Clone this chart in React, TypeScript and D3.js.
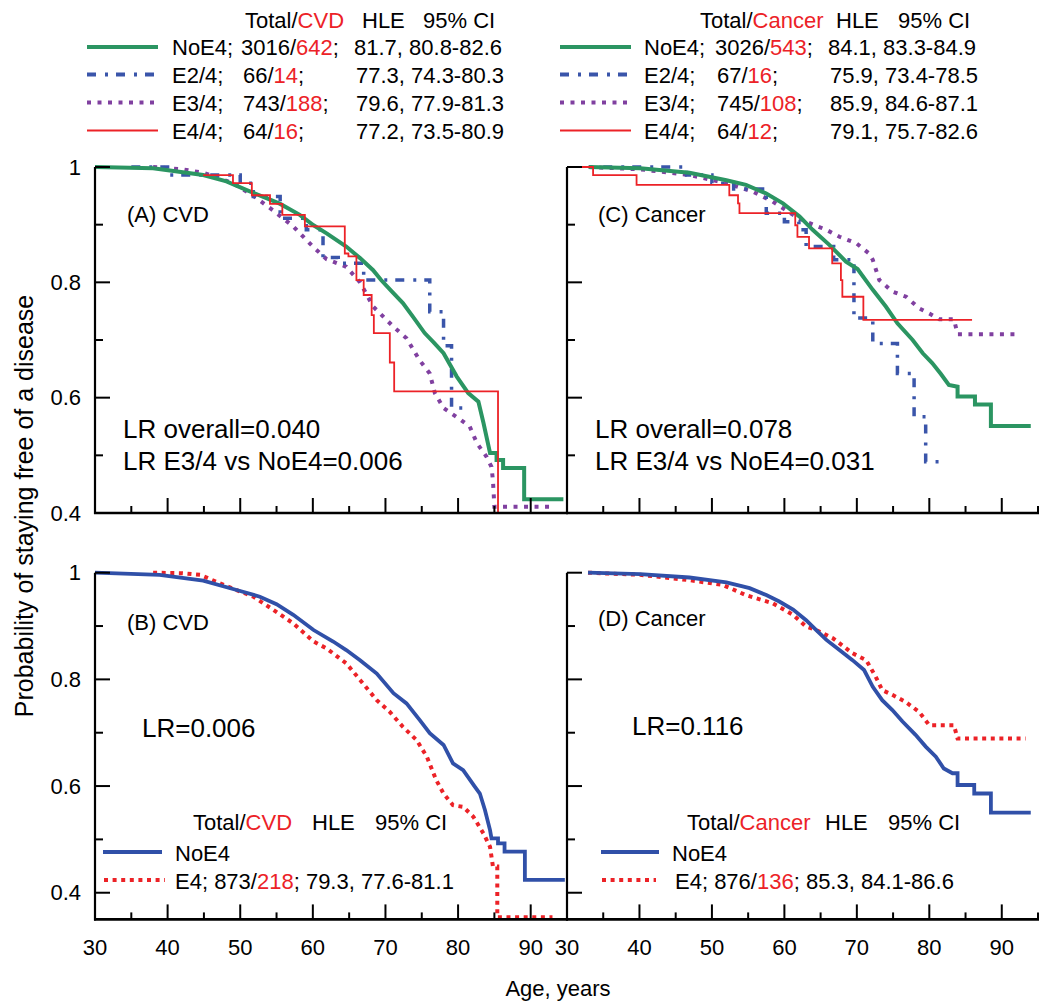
import React from 'react';
import * as d3 from 'd3';

type Pt = [number, number];

// ---------- data (age, probability free of disease) ----------
const ageTicks = [30, 40, 50, 60, 70, 80, 90];
const probTickLabels = [1, 0.8, 0.6, 0.4];

// Panel A: CVD by genotype
const cvdNoE4: Pt[] = [[30,1.0],[38,0.998],[44.9,0.986],[48.1,0.975],[50.9,0.96],[53.6,0.946],[55.5,0.936],[58.2,0.917],[60.1,0.899],[61.9,0.885],[64.6,0.862],[66.5,0.842],[68.3,0.821],[69.4,0.804],[70.8,0.785],[72.4,0.764],[73.8,0.74],[75.4,0.712],[76.7,0.695],[78.0,0.677],[79.8,0.637],[81.4,0.608],[82.8,0.593],[83.5,0.556],[84.4,0.504],[85.3,0.504],[85.3,0.492],[86.2,0.492],[86.2,0.478],[89.1,0.478],[89.1,0.424],[94.5,0.424]];
const cvdE24: Pt[] = [[35,1.0],[40.3,0.986],[50,0.972],[51.8,0.949],[55.5,0.911],[59.1,0.891],[61.4,0.843],[63.5,0.833],[67,0.804],[76.1,0.749],[78,0.69],[79.1,0.582],[81.4,0.582]];
const cvdE34: Pt[] = [[38.0,1.0],[42,0.996],[44.9,0.99],[49,0.972],[51.8,0.95],[54.5,0.925],[57.3,0.897],[60,0.862],[61.9,0.84],[64.6,0.827],[66.5,0.80],[68.3,0.758],[71.1,0.723],[72.9,0.703],[74.7,0.665],[76.1,0.642],[76.8,0.608],[78.0,0.582],[80.3,0.562],[81.6,0.55],[82.6,0.521],[83.9,0.498],[84.6,0.48],[84.8,0.457],[85.0,0.411],[93.3,0.411]];
const cvdE44: Pt[] = [[44.9,0.986],[49.0,0.972],[51.6,0.951],[54.1,0.936],[55.8,0.917],[58.9,0.897],[64.4,0.85],[64.9,0.845],[66.0,0.804],[67.0,0.778],[68.1,0.743],[68.4,0.712],[70.6,0.661],[71.2,0.611],[85.5,0.0]];

// Panel C: Cancer by genotype
const canNoE4: Pt[] = [[33,1.0],[40.1,0.998],[46.9,0.99],[52.0,0.977],[54.7,0.969],[57.5,0.954],[59.8,0.937],[62.1,0.914],[63.9,0.891],[66.2,0.865],[68.5,0.836],[70.1,0.823],[72.2,0.787],[74.0,0.758],[75.6,0.729],[77.7,0.70],[79.1,0.677],[80.4,0.66],[81.6,0.641],[82.7,0.622],[83.9,0.619],[83.9,0.602],[86.3,0.602],[86.3,0.588],[88.5,0.588],[88.5,0.551],[94.0,0.551]];
const canE24: Pt[] = [[35,1.0],[46.5,0.986],[50.0,0.972],[53.0,0.962],[57.5,0.92],[60.0,0.905],[62.0,0.891],[63.0,0.862],[66.8,0.839],[69.6,0.738],[72.2,0.694],[75.6,0.642],[77.9,0.567],[79.5,0.489],[81.8,0.489]];
const canE34: Pt[] = [[33,1.0],[40.1,0.996],[46.9,0.986],[52.0,0.972],[55.7,0.957],[58.4,0.94],[61.2,0.917],[63.0,0.905],[65.8,0.891],[67.6,0.879],[69.9,0.868],[71.7,0.85],[72.2,0.839],[73.1,0.804],[74.9,0.784],[76.8,0.775],[78.6,0.755],[80.0,0.746],[81.4,0.736],[83.4,0.736],[83.9,0.71],[91.9,0.71]];
const canE44: Pt[] = [[30,1.0],[33.6,0.986],[39.6,0.969],[52.4,0.951],[53.6,0.937],[53.8,0.92],[61.5,0.899],[61.8,0.879],[63.4,0.859],[66.6,0.833],[67.8,0.804],[68.0,0.775],[70.9,0.735],[85.9,0.735]];

// Panel B: CVD, NoE4 vs E4
const cvdBNoE4: Pt[] = [[30,1.0],[38.9,0.996],[44.9,0.985],[49.5,0.9675],[52.7,0.955],[55.0,0.941],[57.3,0.921],[60.1,0.8925],[62.8,0.871],[64.6,0.855],[66.5,0.836],[68.8,0.811],[71.1,0.774],[72.9,0.755],[74.7,0.724],[76.1,0.699],[78.0,0.677],[79.3,0.6425],[80.7,0.63],[82.3,0.599],[83.0,0.586],[83.7,0.555],[84.4,0.5175],[84.6,0.502],[85.5,0.502],[85.5,0.4925],[86.4,0.4925],[86.4,0.477],[89.2,0.477],[89.2,0.424],[94.7,0.424]];
const cvdBE4: Pt[] = [[38,1.0],[42,0.999],[44.5,0.996],[47.2,0.98],[49.5,0.9675],[51.8,0.955],[54.6,0.93],[57.3,0.905],[60.1,0.871],[61.9,0.858],[64.6,0.83],[66.5,0.799],[68.8,0.761],[70.6,0.739],[72.4,0.711],[74.3,0.686],[75.7,0.655],[77.0,0.611],[78.0,0.586],[79.3,0.564],[80.7,0.561],[82.1,0.5425],[83.5,0.511],[84.4,0.486],[84.8,0.449],[85.4,0.449],[85.4,0.354],[93,0.354]];

// Panel D: Cancer, NoE4 vs E4
const canDNoE4: Pt[] = [[32.9,1.0],[40.1,0.9975],[46.9,0.991],[52.0,0.982],[55.2,0.971],[57.5,0.958],[59.3,0.946],[61.2,0.931],[63.0,0.911],[64.4,0.8925],[65.8,0.874],[67.6,0.855],[69.4,0.836],[71.0,0.8175],[72.2,0.786],[73.5,0.761],[74.9,0.7425],[76.3,0.721],[78.1,0.696],[79.5,0.674],[80.9,0.655],[82.0,0.633],[83.2,0.624],[83.9,0.624],[83.9,0.602],[86.2,0.602],[86.2,0.586],[88.5,0.586],[88.5,0.55],[94.0,0.55]];
const canDE4: Pt[] = [[32.9,1.0],[40.1,0.996],[46.9,0.986],[51.5,0.977],[54.7,0.958],[58.4,0.9425],[61.2,0.921],[63.0,0.899],[64.4,0.8925],[66.7,0.877],[69.4,0.849],[71.3,0.836],[72.6,0.805],[73.5,0.78],[74.9,0.771],[76.7,0.758],[78.6,0.739],[80.0,0.714],[83.4,0.714],[83.9,0.689],[93.3,0.689]];

// legend rows
const cvdLegend = [
  { label: 'NoE4;', total: '3016/', cases: '642', hle: '81.7, 80.8-82.6' },
  { label: 'E2/4;', total: '66/', cases: '14', hle: '77.3, 74.3-80.3' },
  { label: 'E3/4;', total: '743/', cases: '188', hle: '79.6, 77.9-81.3' },
  { label: 'E4/4;', total: '64/', cases: '16', hle: '77.2, 73.5-80.9' },
];
const canLegend = [
  { label: 'NoE4;', total: '3026/', cases: '543', hle: '84.1, 83.3-84.9' },
  { label: 'E2/4;', total: '67/', cases: '16', hle: '75.9, 73.4-78.5' },
  { label: 'E3/4;', total: '745/', cases: '108', hle: '85.9, 84.6-87.1' },
  { label: 'E4/4;', total: '64/', cases: '12', hle: '79.1, 75.7-82.6' },
];

const FONT = "'Liberation Sans', Arial, Helvetica, sans-serif";
const GREEN = '#2b9562';
const BLUE = '#3a55aa';
const PURPLE = '#8040a0';
const RED = '#ec2227';
const NAVY = '#3050a8';

type Style = { color: string; width: number; dash?: string; step?: boolean };
const styles: Style[] = [
  { color: GREEN, width: 4 },
  { color: BLUE, width: 3.5, dash: '9,9,3,8', step: true },
  { color: PURPLE, width: 4, dash: '4,6.5' },
  { color: RED, width: 1.8, step: true },
];
const bStyles: Style[] = [
  { color: NAVY, width: 3.8 },
  { color: RED, width: 4, dash: '4,4.6' },
];

function Curve({ data, x, y, s, clip }: { data: Pt[]; x: any; y: any; s: Style; clip: string }) {
  const gen = d3.line<Pt>().x(d => x(d[0])).y(d => y(d[1])).curve(s.step ? d3.curveStepAfter : d3.curveLinear);
  return <path d={gen(data) || ''} fill="none" stroke={s.color} strokeWidth={s.width} strokeDasharray={s.dash} clipPath={`url(#${clip})`} strokeLinejoin="miter" />;
}

function Axes({ x, y, yMin, showLabels, showXLabels }: { x: any; y: any; yMin: number; showLabels: boolean; showXLabels: boolean }) {
  const [x0, x1] = x.range();
  const yBottom = y(yMin);
  const yTop = y(1);
  const xt = d3.range(35, 96, 5);
  const yt = d3.range(Math.round(yMin * 10), 11).map(v => v / 10).filter(v => v > yMin + 1e-6 || Math.abs(v - 0.4) < 1e-6 && yMin < 0.39);
  return (
    <g>
      <line x1={x0} x2={x0} y1={yTop} y2={yBottom + 1} stroke="#000" strokeWidth={2.2} />
      <line x1={x0 - 1} x2={x1 + 1} y1={yBottom} y2={yBottom} stroke="#000" strokeWidth={2.6} />
      {xt.map(a => {
        const major = a % 10 === 0;
        return <line key={'x' + a} x1={x(a)} x2={x(a)} y1={yBottom} y2={yBottom - (major ? 15 : 7)} stroke="#000" strokeWidth={2} />;
      })}
      {yt.map(v => {
        const major = Math.round(v * 10) % 2 === 0;
        return <line key={'y' + v} x1={x0} x2={x0 + (major ? 15 : 8)} y1={y(v)} y2={y(v)} stroke="#000" strokeWidth={2} />;
      })}
      {showLabels && probTickLabels.map(v => (
        <text key={'yl' + v} x={81} y={y(v)} textAnchor="end" dominantBaseline="central" fontSize={22}>{String(v)}</text>
      ))}
      {showXLabels && ageTicks.map(a => (
        <text key={'xl' + a} x={x(a)} y={947} textAnchor="middle" dominantBaseline="central" fontSize={22}>{a}</text>
      ))}
    </g>
  );
}

function LegendTop({ x0, header, rows, cols }: { x0: number; header: { word: string; xs: number[] }; rows: typeof cvdLegend; cols: number[] }) {
  const rowY = [47, 74.5, 102.5, 130.5];
  return (
    <g fontSize={22}>
      <text x={header.xs[0]} y={28}>Total/<tspan fill={RED}>{header.word}</tspan></text>
      <text x={header.xs[1]} y={28}>HLE</text>
      <text x={header.xs[2]} y={28}>95% CI</text>
      {rows.map((r, i) => (
        <g key={i}>
          <line x1={x0} x2={x0 + 71} y1={rowY[i]} y2={rowY[i]} stroke={styles[i].color} strokeWidth={i === 3 ? 2 : 4} strokeDasharray={styles[i].dash} />
          <text x={cols[0]} y={rowY[i] + 8}>{r.label}</text>
          <text x={cols[1] + (i === 0 ? -1 : 1)} y={rowY[i] + 8}>{r.total}<tspan fill={RED}>{r.cases}</tspan>;</text>
          <text x={cols[2] + (i === 0 ? -1 : 1)} y={rowY[i] + 8}>{r.hle}</text>
        </g>
      ))}
    </g>
  );
}

export default function App() {
  const xL = d3.scaleLinear().domain([30, 95]).range([95, 567]);
  const xR = d3.scaleLinear().domain([30, 95]).range([567, 1038]);
  const yT = d3.scaleLinear().domain([0.4, 1]).range([513, 167]);
  const yB = d3.scaleLinear().domain([0.35, 1]).range([919.4, 572.7]);

  const topL = [cvdNoE4, cvdE24, cvdE34, cvdE44];
  const topR = [canNoE4, canE24, canE34, canE44];
  // draw order: E3/4, E2/4, NoE4, E4/4 on top
  const order = [2, 1, 0, 3];

  return (
    <svg width={1050} height={1007} viewBox="0 0 1050 1007" style={{ position: 'absolute', left: 0, top: 0, background: '#fff' }} fontFamily={FONT}>
      <defs>
        <clipPath id="cA"><rect x={95} y={150} width={472} height={363} /></clipPath>
        <clipPath id="cC"><rect x={567} y={150} width={480} height={363} /></clipPath>
        <clipPath id="cB"><rect x={95} y={555} width={472} height={364} /></clipPath>
        <clipPath id="cD"><rect x={567} y={555} width={480} height={364} /></clipPath>
      </defs>
      <rect x={0} y={0} width={1050} height={1007} fill="#fff" />

      <LegendTop x0={87} header={{ word: 'CVD', xs: [245, 362, 423] }} rows={cvdLegend} cols={[172, 242, 355]} />
      <LegendTop x0={560} header={{ word: 'Cancer', xs: [700, 836, 898] }} rows={canLegend} cols={[644, 716, 829]} />

      {order.map(i => <Curve key={'A' + i} data={topL[i]} x={xL} y={yT} s={styles[i]} clip="cA" />)}
      {order.map(i => <Curve key={'C' + i} data={topR[i]} x={xR} y={yT} s={styles[i]} clip="cC" />)}
      <Curve data={cvdBE4} x={xL} y={yB} s={bStyles[1]} clip="cB" />
      <Curve data={cvdBNoE4} x={xL} y={yB} s={bStyles[0]} clip="cB" />
      <Curve data={canDE4} x={xR} y={yB} s={bStyles[1]} clip="cD" />
      <Curve data={canDNoE4} x={xR} y={yB} s={bStyles[0]} clip="cD" />

      <Axes x={xL} y={yT} yMin={0.4} showLabels={true} showXLabels={false} />
      <Axes x={xR} y={yT} yMin={0.4} showLabels={false} showXLabels={false} />
      <Axes x={xL} y={yB} yMin={0.35} showLabels={true} showXLabels={true} />
      <Axes x={xR} y={yB} yMin={0.35} showLabels={false} showXLabels={true} />

      {/* panel annotations */}
      <g fontSize={22}>
        <text x={127} y={222}>(A) CVD</text>
        <text x={598} y={222}>(C) Cancer</text>
        <text x={127} y={630}>(B) CVD</text>
        <text x={598} y={626}>(D) Cancer</text>
      </g>
      <g fontSize={26}>
        <text x={123} y={438}>LR overall=0.040</text>
        <text x={123} y={470}>LR E3/4 vs NoE4=0.006</text>
        <text x={595} y={438}>LR overall=0.078</text>
        <text x={595} y={470}>LR E3/4 vs NoE4=0.031</text>
        <text x={142} y={737}>LR=0.006</text>
        <text x={632} y={735}>LR=0.116</text>
      </g>

      {/* bottom legends */}
      <g fontSize={22}>
        <text x={193} y={830}>Total/<tspan fill={RED}>CVD</tspan></text>
        <text x={312} y={830}>HLE</text>
        <text x={375} y={830}>95% CI</text>
        <line x1={103} x2={162} y1={852} y2={852} stroke={NAVY} strokeWidth={4} />
        <text x={175} y={861}>NoE4</text>
        <line x1={104} x2={165} y1={880} y2={880} stroke={RED} strokeWidth={4} strokeDasharray="4,4.6" />
        <text x={175} y={889}>E4; 873/<tspan fill={RED}>218</tspan>; 79.3, 77.6-81.1</text>

        <text x={687} y={830}>Total/<tspan fill={RED}>Cancer</tspan></text>
        <text x={825} y={830}>HLE</text>
        <text x={888} y={830}>95% CI</text>
        <line x1={601} x2={659} y1={852} y2={852} stroke={NAVY} strokeWidth={4} />
        <text x={672} y={861}>NoE4</text>
        <line x1={602} x2={656} y1={880} y2={880} stroke={RED} strokeWidth={4} strokeDasharray="4,4.6" />
        <text x={675} y={889}>E4; 876/<tspan fill={RED}>136</tspan>; 85.3, 84.1-86.6</text>
      </g>

      {/* axis titles */}
      <text x={558} y={988} textAnchor="middle" dominantBaseline="central" fontSize={22}>Age, years</text>
      <text transform="translate(24,506) rotate(-90)" textAnchor="middle" dominantBaseline="central" fontSize={25}>Probability of staying free of a disease</text>
    </svg>
  );
}
